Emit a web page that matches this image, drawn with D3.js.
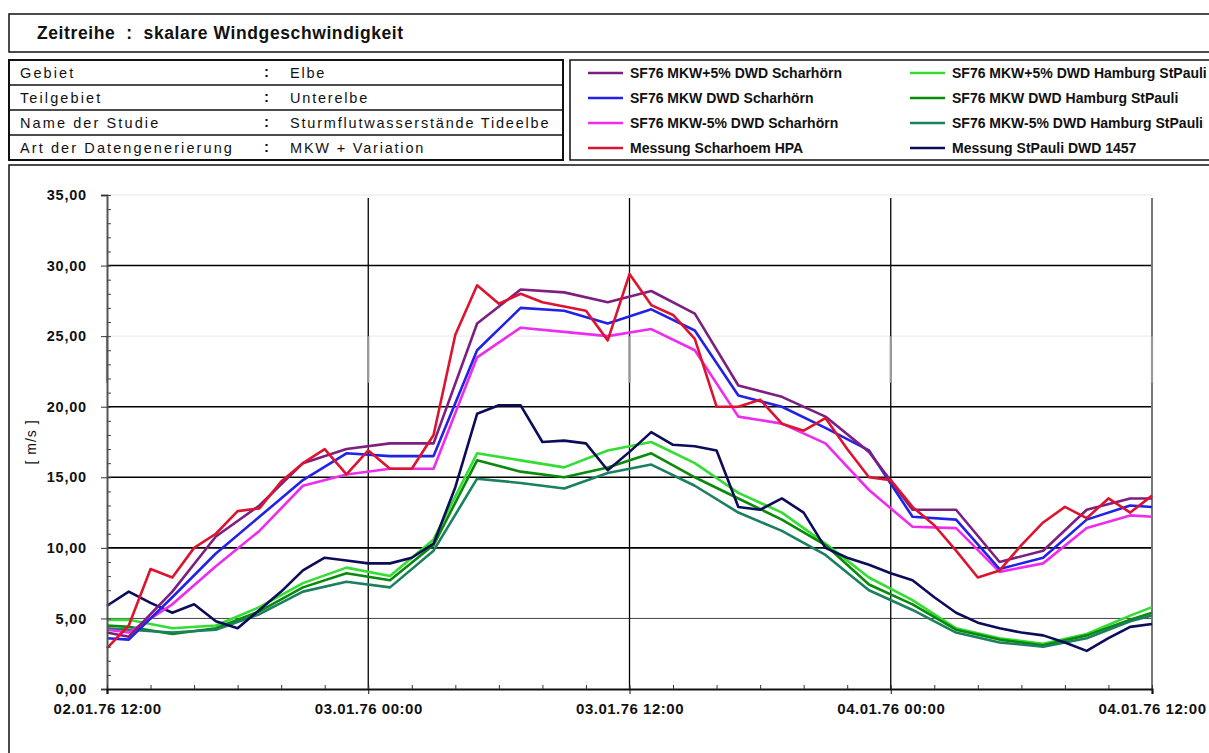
<!DOCTYPE html>
<html>
<head>
<meta charset="utf-8">
<script src="https://cdn.jsdelivr.net/npm/d3@7"></script>
<style>
  body { margin: 0; background: #fff; }
  svg { display: block; font-family: "Liberation Sans", Arial, sans-serif; }
</style>
</head>
<body>
<svg id="chart" width="1209" height="753"></svg>
<script>
// ---- data ----
const titleText = 'Zeitreihe  :  skalare Windgeschwindigkeit';
const infoLabels = ['Gebiet', 'Teilgebiet', 'Name der Studie', 'Art der Datengenerierung'];
const infoValues = ['Elbe', 'Unterelbe', 'Sturmflutwasserstände Tideelbe', 'MKW + Variation'];

const xTickHours = [0, 12, 24, 36, 48];
const xTickLabels = ['02.01.76 12:00', '03.01.76 00:00', '03.01.76 12:00', '04.01.76 00:00', '04.01.76 12:00'];
const yTicks = [0, 5, 10, 15, 20, 25, 30, 35];

// hours after 02.01.76 12:00
const hoursMeas = d3.range(0, 49);
const hoursModel = [0, 1, 3, 5, 7, 9, 11, 13, 15, 17, 19, 21, 23, 25, 27, 29, 31, 33, 35, 37, 39, 41, 43, 45, 47, 48];

const mkwPlusScharhoern = [4.0, 3.7, 6.9, 10.8, 13.0, 16.0, 17.0, 17.4, 17.4, 25.9, 28.3, 28.1, 27.4, 28.2, 26.6, 21.5, 20.7, 19.3, 16.8, 12.7, 12.7, 9.0, 9.8, 12.7, 13.5, 13.5];
const mkwScharhoern = [3.6, 3.5, 6.5, 9.6, 12.2, 14.8, 16.7, 16.5, 16.5, 24.0, 27.0, 26.8, 25.9, 26.9, 25.4, 20.8, 20.0, 18.5, 16.9, 12.2, 12.0, 8.5, 9.3, 12.0, 13.0, 12.9];
const mkwMinusScharhoern = [4.2, 4.0, 6.0, 8.7, 11.2, 14.4, 15.2, 15.6, 15.6, 23.5, 25.6, 25.3, 25.0, 25.5, 24.0, 19.3, 18.8, 17.4, 14.1, 11.5, 11.4, 8.3, 8.9, 11.4, 12.3, 12.2];
const messScharhoern = [2.9, 4.5, 8.5, 7.9, 10.0, 11.0, 12.6, 12.8, 14.7, 16.0, 17.0, 15.2, 16.9, 15.6, 15.6, 18.0, 25.1, 28.6, 27.3, 28.0, 27.4, 27.1, 26.8, 24.7, 29.4, 27.2, 26.5, 24.8, 20.0, 20.0, 20.5, 18.8, 18.3, 19.2, 17.0, 15.0, 14.8, 12.9, 11.6, 9.8, 7.9, 8.4, 10.2, 11.8, 12.9, 12.1, 13.5, 12.5, 13.7];

const mkwPlusStPauli = [4.9, 4.9, 4.3, 4.5, 5.8, 7.5, 8.6, 8.0, 10.6, 16.7, 16.2, 15.7, 16.9, 17.5, 16.0, 13.9, 12.5, 10.3, 7.9, 6.3, 4.3, 3.6, 3.2, 3.9, 5.2, 5.8];
const mkwStPauli = [4.5, 4.4, 3.9, 4.3, 5.5, 7.2, 8.2, 7.7, 10.2, 16.2, 15.4, 15.0, 15.7, 16.7, 15.0, 13.5, 12.0, 10.2, 7.4, 6.0, 4.2, 3.5, 3.1, 3.8, 4.9, 5.4];
const mkwMinusStPauli = [4.3, 4.2, 4.0, 4.2, 5.3, 6.9, 7.6, 7.2, 9.8, 14.9, 14.6, 14.2, 15.3, 15.9, 14.4, 12.5, 11.2, 9.5, 7.0, 5.6, 4.0, 3.3, 3.0, 3.6, 4.8, 5.2];
const messStPauli = [5.9, 6.9, 6.1, 5.4, 6.0, 4.8, 4.3, 5.6, 6.9, 8.4, 9.3, 9.1, 8.9, 8.9, 9.3, 10.3, 14.3, 19.5, 20.1, 20.1, 17.5, 17.6, 17.4, 15.5, 16.8, 18.2, 17.3, 17.2, 16.9, 12.9, 12.7, 13.5, 12.5, 10.0, 9.3, 8.8, 8.2, 7.7, 6.5, 5.4, 4.7, 4.3, 4.0, 3.8, 3.3, 2.7, 3.6, 4.4, 4.6];

const series = [
  { name: 'SF76 MKW+5% DWD Scharhörn', color: '#7d1f80', t: hoursModel, v: mkwPlusScharhoern },
  { name: 'SF76 MKW DWD Scharhörn', color: '#2222e6', t: hoursModel, v: mkwScharhoern },
  { name: 'SF76 MKW-5% DWD Scharhörn', color: '#ee2cee', t: hoursModel, v: mkwMinusScharhoern },
  { name: 'Messung Scharhoem HPA', color: '#dc1430', t: hoursMeas, v: messScharhoern },
  { name: 'SF76 MKW+5% DWD Hamburg StPauli', color: '#33dd33', t: hoursModel, v: mkwPlusStPauli },
  { name: 'SF76 MKW DWD Hamburg StPauli', color: '#0a8a0a', t: hoursModel, v: mkwStPauli },
  { name: 'SF76 MKW-5% DWD Hamburg StPauli', color: '#1b8060', t: hoursModel, v: mkwMinusStPauli },
  { name: 'Messung StPauli DWD 1457', color: '#0c0c58', t: hoursMeas, v: messStPauli },
];
// draw order (bottom to top)
const drawOrder = [4, 5, 6, 7, 2, 1, 0, 3];

// ---- layout ----
const svg = d3.select('#chart');
const W = 1209;

const x = d3.scaleLinear().domain([0, 48]).range([107, 1152]);
const y = d3.scaleLinear().domain([0, 35]).range([689, 195]);

// header box
svg.append('rect').attr('x', 9).attr('y', 14).attr('width', W).attr('height', 38)
  .attr('fill', 'none').attr('stroke', '#111').attr('stroke-width', 1.5);
svg.append('text').attr('x', 37).attr('y', 39)
  .attr('font-size', 17.5).attr('font-weight', 'bold').style('letter-spacing', '0.6px')
  .attr('fill', '#111').style('white-space', 'pre').text(titleText);

// info table
const rowH = 25;
const tbl = svg.append('g');
tbl.append('rect').attr('x', 9).attr('y', 60).attr('width', 554).attr('height', rowH * 4)
  .attr('fill', 'none').attr('stroke', '#111').attr('stroke-width', 2);
infoLabels.forEach((lab, i) => {
  const yy = 60 + i * rowH;
  if (i > 0) {
    tbl.append('line').attr('x1', 9).attr('x2', 563).attr('y1', yy).attr('y2', yy)
      .attr('stroke', '#111').attr('stroke-width', 1.5);
  }
  const ty = yy + 18;
  tbl.append('text').attr('x', 20).attr('y', ty).attr('font-size', 14.5).attr('fill', '#111')
    .style('letter-spacing', '2.1px').text(lab);
  tbl.append('text').attr('x', 264).attr('y', ty - 1).attr('font-size', 15).attr('font-weight', 'bold')
    .attr('fill', '#111').text(':');
  tbl.append('text').attr('x', 290).attr('y', ty).attr('font-size', 14.5).attr('fill', '#111')
    .style('letter-spacing', '1.8px').text(infoValues[i]);
});

// legend box
const lg = svg.append('g');
lg.append('rect').attr('x', 570).attr('y', 60).attr('width', W).attr('height', 100)
  .attr('fill', 'none').attr('stroke', '#111').attr('stroke-width', 1.5);
series.forEach((s, i) => {
  const col = Math.floor(i / 4);
  const row = i % 4;
  const lx = col === 0 ? 588 : 910;
  const ly = 73 + row * 25;
  lg.append('line').attr('x1', lx).attr('x2', lx + 35).attr('y1', ly).attr('y2', ly)
    .attr('stroke', s.color).attr('stroke-width', 2.5);
  lg.append('text').attr('x', lx + 42).attr('y', ly + 5).attr('font-size', 14)
    .attr('font-weight', 'bold').attr('fill', '#111').style('letter-spacing', '0px').text(s.name);
});

// chart frame
svg.append('path').attr('d', `M9,753 V165 H${W}`).attr('fill', 'none')
  .attr('stroke', '#111').attr('stroke-width', 1.5);

// grid
const grid = svg.append('g');
grid.selectAll('.hgrid').data(yTicks.filter(d => d > 0)).join('line')
  .attr('class', 'hgrid')
  .attr('x1', x(0)).attr('x2', x(48))
  .attr('y1', d => y(d)).attr('y2', d => y(d))
  .attr('stroke', d => d === 35 ? '#eee' : d === 25 ? '#f2f2f2' : d === 5 ? '#444' : '#000')
  .attr('stroke-width', d => d === 5 ? 1 : 1.6);
grid.selectAll('.vgrid').data(xTickHours.slice(1)).join('line')
  .attr('class', 'vgrid')
  .attr('x1', d => x(d)).attr('x2', d => x(d))
  .attr('y1', y(35) + 3).attr('y2', y(0))
  .attr('stroke', d => d === 48 ? '#777' : '#000')
  .attr('stroke-width', d => d === 48 ? 2 : 1.3);
// faded band in the vertical lines
grid.selectAll('.vfade').data(xTickHours).join('line')
  .attr('class', 'vfade')
  .attr('x1', d => x(d)).attr('x2', d => x(d))
  .attr('y1', y(25)).attr('y2', y(21.7))
  .attr('stroke', '#999').attr('stroke-width', 2.2);

// lines
const line = d3.line().x(d => x(d[0])).y(d => y(d[1]));
const lines = svg.append('g').attr('fill', 'none').attr('stroke-linejoin', 'round');
drawOrder.forEach(i => {
  const s = series[i];
  lines.append('path')
    .attr('d', line(s.t.map((t, j) => [t, s.v[j]])))
    .attr('stroke', s.color).attr('stroke-width', 2.6);
});

// y axis
const fmt = d => d.toFixed(2).replace('.', ',');
const yAxisG = svg.append('g').attr('transform', `translate(${x(0)},0)`)
  .call(d3.axisLeft(y).tickValues(yTicks).tickFormat(fmt).tickSize(6).tickPadding(14));
yAxisG.select('.domain').attr('stroke', '#555').attr('stroke-width', 2);
yAxisG.selectAll('.tick line').attr('stroke', '#333');
yAxisG.selectAll('.tick text').attr('font-size', 14.5).attr('font-weight', 'bold').attr('fill', '#111')
  .attr('font-family', '"Liberation Sans", Arial, sans-serif').style('letter-spacing', '0.8px');
const yMinor = svg.append('g').attr('transform', `translate(${x(0)},0)`)
  .call(d3.axisRight(y).tickValues(d3.range(0, 36, 1)).tickFormat('').tickSize(4));
yMinor.select('.domain').remove();
yMinor.selectAll('.tick line').attr('stroke', '#444');

// x axis
const xAxisG = svg.append('g').attr('transform', `translate(0,${y(0)})`)
  .call(d3.axisBottom(x).tickValues(xTickHours).tickFormat((d, i) => xTickLabels[i]).tickSize(5).tickPadding(9));
xAxisG.select('.domain').attr('stroke', '#111').attr('stroke-width', 2.2);
xAxisG.selectAll('.tick line').attr('stroke', '#111');
xAxisG.selectAll('.tick text').attr('font-size', 15).attr('font-weight', 'bold').attr('fill', '#111')
  .attr('font-family', '"Liberation Sans", Arial, sans-serif').style('letter-spacing', '0.5px');
const xMinor = svg.append('g').attr('transform', `translate(0,${y(0)})`)
  .call(d3.axisTop(x).tickValues(d3.range(0, 49, 2)).tickFormat('').tickSize(4));
xMinor.select('.domain').remove();
xMinor.selectAll('.tick line').attr('stroke', '#333');

// y axis title
svg.append('text').attr('transform', `translate(36,${y(17.5)}) rotate(-90)`)
  .attr('text-anchor', 'middle').attr('font-size', 14).attr('fill', '#111')
  .style('letter-spacing', '1px').style('white-space', 'pre').text('[ m/s ]');
</script>
</body>
</html>
